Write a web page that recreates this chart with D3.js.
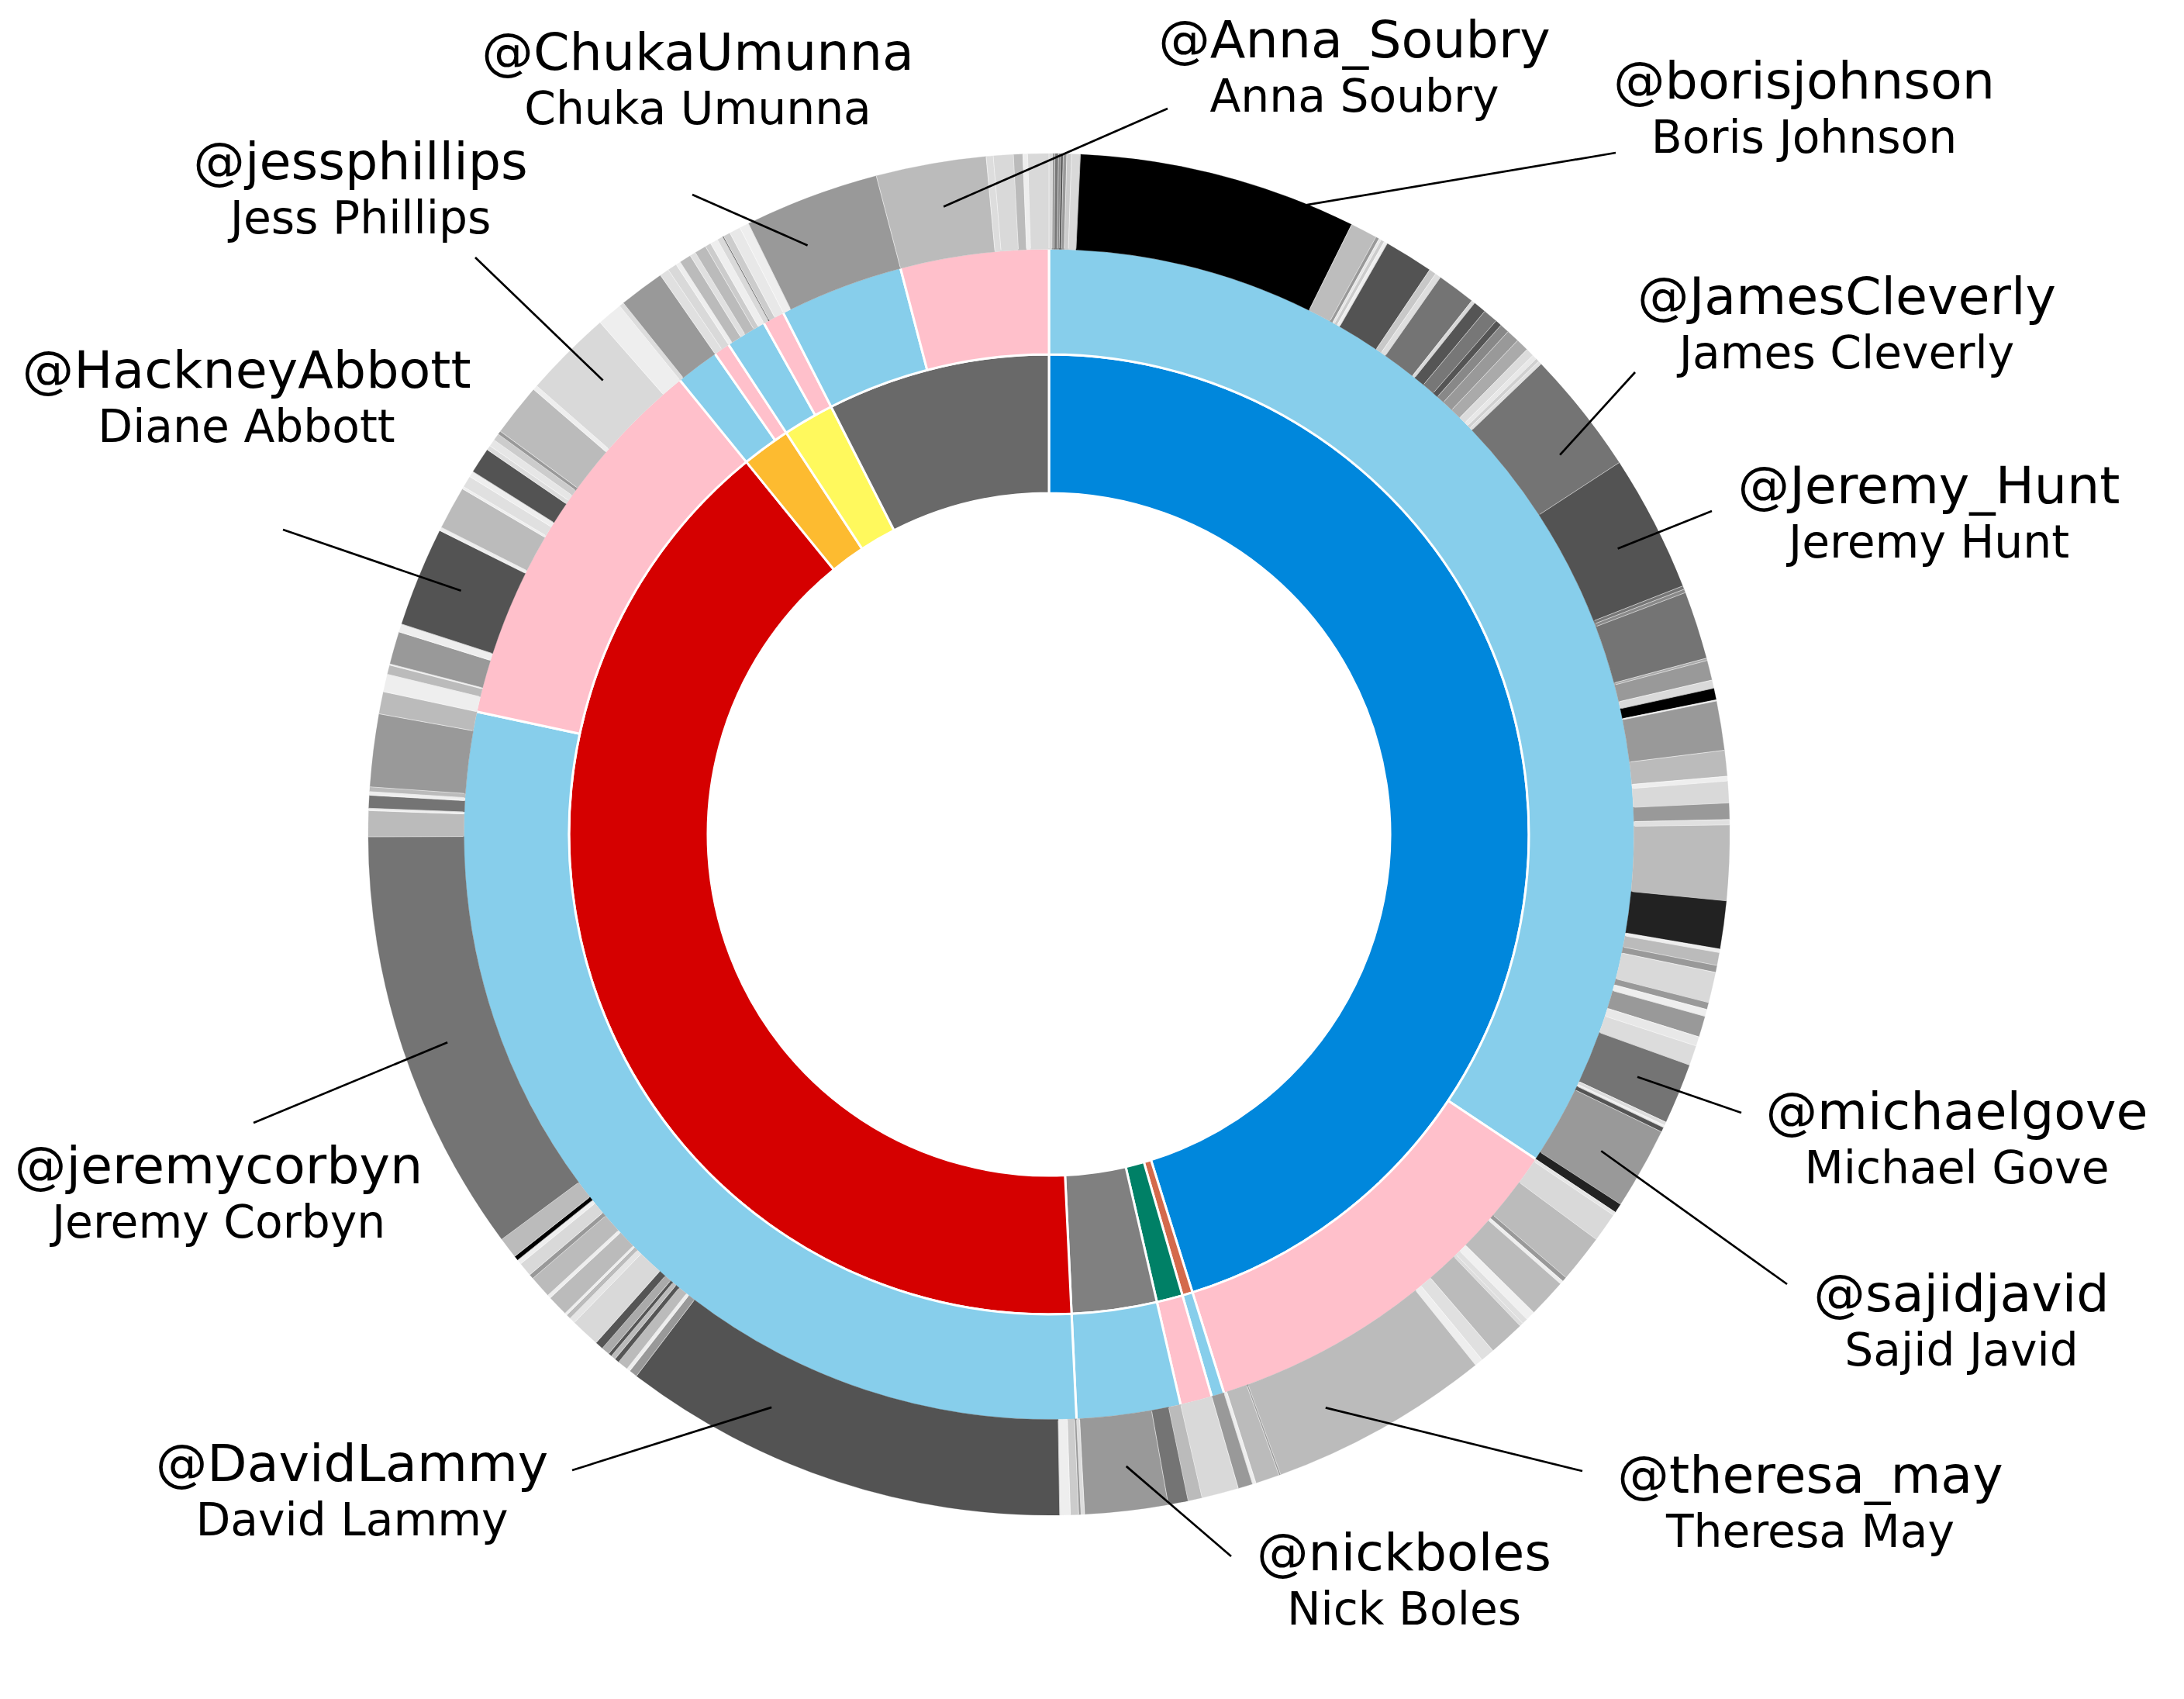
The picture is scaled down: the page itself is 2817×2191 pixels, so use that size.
<!DOCTYPE html>
<html><head><meta charset="utf-8">
<script src="https://cdn.jsdelivr.net/npm/d3@7"></script>
<style>html,body{margin:0;padding:0;background:#fff;} svg{display:block;}</style>
</head><body>
<script>
// ---------------- DATA ----------------
const partyNames = ["Conservative","DUP","Green","Independent","Labour","Liberal Democrat","SNP","The Independent Group"];
// gender groups (middle ring), in drawing order
const groupParty  = [0,0,1,2,3,4,4,5,5,6,6,7,7];
const groupGender = ["M","F","M","F","M","M","F","M","F","M","F","M","F"];
const groupSizes  = [62,16,1,1,4,32,20,2,2,6,4,2,6];
// individual MPs (outer ring), in drawing order
const mpValues = [
 // Conservative male
 0.3,0.2,0.3,0.2,0.2,0.3,0.4,0.75,23.75,2.3,0.3,0.2,0.3,0.3,4.2,0.6,0.5,3.3,0.3,1.1,
 1.25,0.55,0.8,1.1,1.1,0.7,0.4,0.3,0.3,10.6,11.7,0.3,0.3,5.8,0.2,1.7,0.7,1.0,0.1,4.2,
 2.2,0.4,1.85,1.4,0.45,6.4,4.1,0.3,1.1,0.6,2.6,0.6,0.6,1.8,0.8,1.7,5.2,0.3,0.2,0.4,7.0,0.8,
 // Conservative female
 0.3,2.5,4.1,0.4,0.3,3.3,0.8,0.5,0.3,3.1,1.2,0.7,18.9,0.15,2.05,0.3,
 // DUP male
 1.25,
 // Green female
 3.15,
 // Independent male
 1.2,1.7,7.1,0.3,
 // Labour male
 0.2,0.7,0.9,38.2,0.7,0.3,0.9,0.4,0.4,0.3,0.7,0.7,2.5,0.5,0.4,0.2,1.8,0.3,1.9,0.4,
 1.2,0.4,0.4,1.8,36.3,2.2,0.2,1.1,0.3,0.4,6.2,1.9,
 // Labour female
 1.5,0.8,0.1,2.8,0.7,8.5,0.3,3.7,0.2,1.0,0.5,2.2,0.4,0.6,0.6,0.3,4.5,0.4,7.55,2.15,
 // Liberal Democrat male / female
 0.4,3.9, 0.8,0.8,
 // SNP male / female
 0.4,1.0,0.5,1.0,0.5,0.65, 0.5,0.1,0.6,0.95,
 // TIG male / female
 0.8,11.5, 9.4,0.6,1.7,0.8,0.4,1.8
];
const labelHandles = ["@ChukaUmunna","@Anna_Soubry","@borisjohnson","@jessphillips","@JamesCleverly","@HackneyAbbott","@Jeremy_Hunt","@michaelgove","@sajidjavid","@theresa_may","@nickboles","@DavidLammy","@jeremycorbyn"];
const labelNames   = ["Chuka Umunna","Anna Soubry","Boris Johnson","Jess Phillips","James Cleverly","Diane Abbott","Jeremy Hunt","Michael Gove","Sajid Javid","Theresa May","Nick Boles","David Lammy","Jeremy Corbyn"];
const labelMP      = [151,152,8,134,29,121,30,56,60,74,82,87,108];

// ---------------- STYLES ----------------
const partyColors = ["#0087DC","#D46A4C","#008066","#808080","#D50000","#FDBB30","#FFF95D","#696969"];
const genderColors = {M:"#87CEEB", F:"#FFC0CB"};
const mpShades = [
 "#d9d9d9","#999999","#777777","#8a8a8a","#555555","#999999","#cccccc","#d9d9d9","#000000","#bdbdbd",
 "#999999","#e6e6e6","#cccccc","#eeeeee","#535353","#c8c8c8","#dedede","#747474","#d9d9d9","#555555",
 "#777777","#555555","#888888","#999999","#aaaaaa","#dcdcdc","#e8e8e8","#d0d0d0","#e0e0e0","#747474",
 "#535353","#777777","#8a8a8a","#747474","#aaaaaa","#999999","#dadada","#000000","#eeeeee","#999999",
 "#bbbbbb","#eeeeee","#d9d9d9","#999999","#e0e0e0","#bbbbbb","#222222","#eeeeee","#bbbbbb","#999999",
 "#d9d9d9","#999999","#eeeeee","#999999","#e8e8e8","#dcdcdc","#747474","#dddddd","#eeeeee","#555555",
 "#999999","#222222",
 "#e5e5e5","#d9d9d9","#bbbbbb","#999999","#eeeeee","#bbbbbb","#f0f0f0","#e0e0e0","#dddddd","#bbbbbb",
 "#e0e0e0","#eeeeee","#bbbbbb","#999999","#bbbbbb","#eeeeee",
 "#999999",
 "#d9d9d9",
 "#bbbbbb","#747474","#999999","#dddddd",
 "#999999","#cccccc","#eeeeee","#535353","#999999","#eeeeee","#bbbbbb","#555555","#bbbbbb","#555555",
 "#aaaaaa","#555555","#d9d9d9","#e5e5e5","#bbbbbb","#eeeeee","#bbbbbb","#eeeeee","#bbbbbb","#999999",
 "#d9d9d9","#eeeeee","#000000","#bbbbbb","#747474","#bbbbbb","#eeeeee","#747474","#eeeeee","#bbbbbb",
 "#999999","#bbbbbb",
 "#eeeeee","#bbbbbb","#eeeeee","#999999","#eeeeee","#535353","#eeeeee","#bbbbbb","#eeeeee","#e0e0e0",
 "#eeeeee","#535353","#dddddd","#e6e6e6","#cccccc","#999999","#bbbbbb","#eeeeee","#d9d9d9","#eeeeee",
 "#dddddd","#999999","#e0e0e0","#d9d9d9",
 "#eeeeee","#bbbbbb","#e0e0e0","#bbbbbb","#cccccc","#eeeeee","#d9d9d9","#555555","#cccccc","#e8e8e8",
 "#eeeeee","#999999","#bbbbbb","#dddddd","#d9d9d9","#bbbbbb","#eeeeee","#d9d9d9"
];
// label layout (page coordinates)
const labelTextX   = [900,1747,2327,465,2382,318,2488,2524,2530,2335,1811,454,282];
const labelTextY   = [93,77,130,234,408,503,652,1459,1694,1928,2028,1913,1529];
const labelLineX   = [893,1506,2084,613,2109,365,2208,2246,2305,2041,1588,738,327];
const labelLineY   = [251,140,197,332,480,683,659,1435,1656,1897,2007,1896,1448];
const labelFrac    = [0.34,0.55,0.53,0.57,0.67,0.53,0.55,0.5,0.56,0.69,0.44,0.70,0.48];

// ---------------- DRAW ----------------
const W = 2817, H = 2191, cx = 1353, cy = 1076;
const rHole = 440, rInner = 619, rMid = 756, rOuter = 878;

const mpGroup = [];
groupSizes.forEach((n, g) => { for (let i = 0; i < n; i++) mpGroup.push(g); });
const groupValues = groupSizes.map((n, g) => d3.sum(mpValues.filter((v, i) => mpGroup[i] === g)));
const partyValues = partyNames.map((p, pi) => d3.sum(groupValues.filter((v, g) => groupParty[g] === pi)));

const pie = d3.pie().sort(null).value(d => d).startAngle(0).endAngle(2 * Math.PI);
const partyArcs = pie(partyValues);
const groupArcs = pie(groupValues);
const mpArcs = pie(mpValues);

const svg = d3.select("body").append("svg").attr("width", W).attr("height", H)
  .style("background", "#fff");
const g = svg.append("g").attr("transform", `translate(${cx},${cy})`);

const arcInner = d3.arc().innerRadius(rHole).outerRadius(rInner);
const arcMid = d3.arc().innerRadius(rInner).outerRadius(rMid);
const arcOuter = d3.arc().innerRadius(rMid - 1.5).outerRadius(rOuter);

g.append("g").selectAll("path").data(partyArcs).join("path")
  .attr("d", arcInner).attr("fill", (d, i) => partyColors[i])
  .attr("stroke", "#fff").attr("stroke-width", 3).attr("stroke-linejoin", "round");

g.append("g").selectAll("path").data(groupArcs).join("path")
  .attr("d", arcMid).attr("fill", (d, i) => genderColors[groupGender[i]])
  .attr("stroke", "#fff").attr("stroke-width", 3).attr("stroke-linejoin", "round");

g.append("g").selectAll("path").data(mpArcs).join("path")
  .attr("d", arcOuter).attr("fill", (d, i) => mpShades[i])
  .attr("stroke", (d, i) => mpShades[i]).attr("stroke-width", 0.3);

// thin white separators between MP wedges
g.append("g").selectAll("line").data(mpArcs).join("line")
  .attr("x1", d => rMid * Math.sin(d.startAngle)).attr("y1", d => -rMid * Math.cos(d.startAngle))
  .attr("x2", d => rOuter * Math.sin(d.startAngle)).attr("y2", d => -rOuter * Math.cos(d.startAngle))
  .attr("stroke", "#fff").attr("stroke-width", 0.7).attr("stroke-opacity", 0.8);

// leader lines and two-line labels
const rLead = 0.935 * rOuter;
const lab = svg.append("g");
labelMP.forEach((mi, k) => {
  const a = mpArcs[mi];
  const ang = a.startAngle + labelFrac[k] * (a.endAngle - a.startAngle);
  lab.append("line")
    .attr("x1", labelLineX[k]).attr("y1", labelLineY[k])
    .attr("x2", cx + rLead * Math.sin(ang)).attr("y2", cy - rLead * Math.cos(ang))
    .attr("stroke", "#000").attr("stroke-width", 2.7);
  lab.append("text").attr("x", labelTextX[k]).attr("y", labelTextY[k] - 3)
    .attr("text-anchor", "middle").attr("font-family", "DejaVu Sans")
    .attr("font-size", 66.7).attr("fill", "#000").text(labelHandles[k]);
  lab.append("text").attr("x", labelTextX[k]).attr("y", labelTextY[k] + 67)
    .attr("text-anchor", "middle").attr("font-family", "DejaVu Sans")
    .attr("font-size", 58.3).attr("fill", "#000").text(labelNames[k]);
});
</script>
</body></html>
